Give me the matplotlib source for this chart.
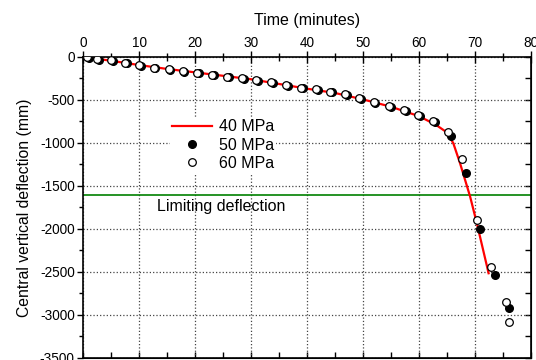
import matplotlib
matplotlib.use('Agg')
import matplotlib.pyplot as plt
from matplotlib.ticker import MultipleLocator

plt.rcParams['font.family'] = ['Liberation Sans', 'DejaVu Sans']
plt.rcParams['axes.unicode_minus'] = False

# 40 MPa (linha)
t40 = [0, 5, 10, 15, 20, 25, 30, 35, 40, 45, 50, 55, 60, 63, 65, 66.1, 67.3, 69.1, 70.3, 72.4]
d40 = [0, -45, -95, -140, -180, -220, -260, -315, -370, -420, -495, -580, -690, -790, -880,
       -1004, -1236, -1624, -1934, -2515]

# 50 MPa (círculos cheios)
t50 = [1.0, 2.8, 5.3, 7.8, 10.3, 12.9, 15.6, 18.1, 20.7, 23.3, 26.0, 28.7, 31.2, 33.9, 36.5,
       39.2, 41.9, 44.4, 47.1, 49.6, 52.2, 54.9, 57.6, 60.1, 62.8, 65.7, 68.3, 70.8, 73.5, 76.0]
d50 = [-12, -38, -50, -76, -108, -133, -153, -173, -193, -213, -238, -258, -278, -300, -338,
       -366, -386, -413, -444, -490, -533, -580, -630, -688, -760, -919, -1353, -2004, -2535, -2915]

# 60 MPa (círculos vazios)
t60 = [0.7, 2.5, 5.0, 7.5, 10.0, 12.6, 15.3, 17.8, 20.4, 23.0, 25.7, 28.4, 30.9, 33.6, 36.2,
       38.9, 41.6, 44.1, 46.8, 49.3, 51.9, 54.6, 57.3, 59.8, 62.4, 65.1, 67.7, 70.3, 72.9, 75.5, 76.1]
d60 = [-5, -30, -42, -68, -100, -125, -145, -165, -185, -205, -230, -250, -270, -292, -330,
       -358, -378, -405, -436, -480, -522, -570, -620, -678, -745, -870, -1190, -1895, -2438, -2845, -3085]

limite = -1610

fig = plt.figure(figsize=(5.36, 3.6), dpi=100)
ax = fig.add_axes([0.155, 0.0056, 0.836, 0.8364])

ax.plot(t40, d40, color='#ff0000', lw=1.6, label='40 MPa', zorder=3)
ax.plot(t50, d50, 'o', color='black', mec='black', ms=5.5, label='50 MPa', zorder=4)
ax.plot(t60, d60, 'o', mfc='white', mec='black', mew=0.9, ms=5.5, label='60 MPa', zorder=5)
ax.axhline(limite, color='#008000', lw=1.2, zorder=2)
ax.text(13.2, limite - 125, 'Limiting deflection', fontsize=11.5, va='center', ha='left')

ax.set_xlim(0, 80)
ax.set_ylim(-3500, 0)

# eixo x em cima
ax.xaxis.tick_top()
ax.xaxis.set_label_position('top')
ax.set_xlabel('Time (minutes)', fontsize=11.5, labelpad=8)
ax.set_ylabel('Central vertical deflection (mm)', fontsize=11.3, labelpad=6)
ax.xaxis.set_major_locator(MultipleLocator(10))
ax.xaxis.set_minor_locator(MultipleLocator(5))
ax.yaxis.set_major_locator(MultipleLocator(500))
ax.yaxis.set_minor_locator(MultipleLocator(250))
ax.tick_params(axis='x', which='major', direction='inout', length=8, width=1, labelsize=9.8, pad=1)
ax.tick_params(axis='x', which='minor', direction='inout', length=6, width=1)
ax.tick_params(axis='y', which='major', direction='out', length=4, width=1, labelsize=9.8, pad=2)
ax.tick_params(axis='y', which='minor', direction='out', length=3, width=1)

for s in ax.spines.values():
    s.set_linewidth(1.2)

# eixos secundários com ticks para dentro
bx = ax.secondary_xaxis('bottom')
bx.xaxis.set_major_locator(MultipleLocator(5))
bx.tick_params(direction='in', length=4, width=1, labelbottom=False)
ry = ax.secondary_yaxis('right')
ry.yaxis.set_major_locator(MultipleLocator(250))
ry.tick_params(direction='in', length=4, width=1, labelright=False)

ax.grid(True, which='major', linestyle=':', color='#444444', lw=0.9)

leg = ax.legend(loc='upper left', bbox_to_anchor=(0.194, 0.80), fontsize=11.5, frameon=True,
                facecolor='white', edgecolor='none', framealpha=1, borderpad=0.15,
                borderaxespad=0, handlelength=2.45, labelspacing=0.2, handletextpad=0.45)
leg.get_frame().set_linewidth(0)

fig.savefig('out.png', dpi=100)
